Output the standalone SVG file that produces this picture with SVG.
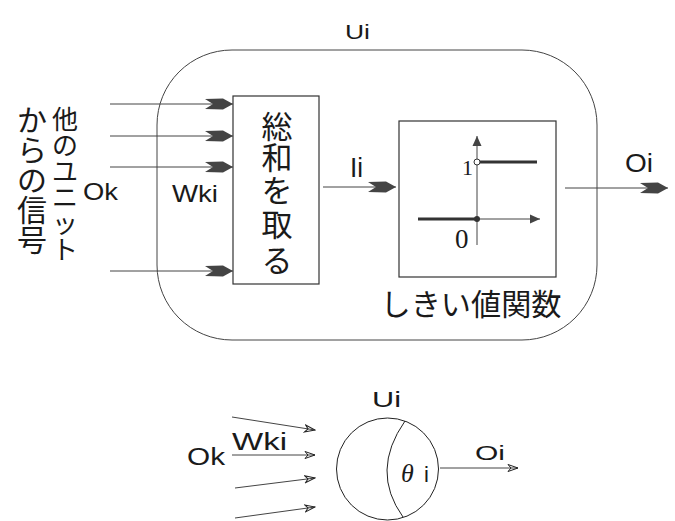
<svg xmlns="http://www.w3.org/2000/svg" width="675" height="521" viewBox="0 0 675 521">
<style>
.lat{font-family:"Liberation Sans","DejaVu Sans",sans-serif;fill:#1a1a1a}
.jp{font-family:"Noto Sans CJK JP","Noto Sans CJK SC",sans-serif;fill:#1a1a1a;text-anchor:middle;dominant-baseline:central}
.ser{font-family:"Liberation Serif",serif;fill:#1a1a1a}
.thin{stroke:#444;stroke-width:1;fill:none}
.box{stroke:#333;stroke-width:1.2;fill:#fff}
.thick{stroke:#333;stroke-width:3;fill:none}
</style>
<defs>
<marker id="big" markerWidth="30" markerHeight="14" refX="29" refY="7" orient="auto" markerUnits="userSpaceOnUse">
<path d="M1,2 L19,1.5 L29,7 L19,12.5 L1,12 L9,7 Z" fill="#444"/>
</marker>
<marker id="small" markerWidth="12" markerHeight="10" refX="11" refY="5" orient="auto" markerUnits="userSpaceOnUse">
<path d="M1,1.5 L11,5 L1,8.5 L4,5 Z" fill="none" stroke="#222" stroke-width="1"/>
</marker>
<marker id="tri" markerWidth="12" markerHeight="12" refX="10" refY="6" orient="auto" markerUnits="userSpaceOnUse">
<path d="M0,1.5 L10,6 L0,10.5 Z" fill="#444"/>
</marker>
</defs>

<g id="unit">
<rect x="157" y="50" width="440" height="290" rx="75" ry="75" fill="none" stroke="#444" stroke-width="1"/>
<text class="lat" x="345" y="39" font-size="21" textLength="25" lengthAdjust="spacingAndGlyphs">Ui</text>
</g>

<g id="inputs-label">
<text class="jp" font-size="30" x="32" y="118">か</text>
<text class="jp" font-size="30" x="32" y="148">ら</text>
<text class="jp" font-size="30" x="32" y="178">の</text>
<text class="jp" font-size="30" x="32" y="208">信</text>
<text class="jp" font-size="30" x="32" y="238">号</text>
<text class="jp" font-size="26" x="65" y="117">他</text>
<text class="jp" font-size="26" x="65" y="143">の</text>
<text class="jp" font-size="26" x="65" y="169">ユ</text>
<text class="jp" font-size="26" x="65" y="195">ニ</text>
<text class="jp" font-size="26" x="65" y="221">ッ</text>
<text class="jp" font-size="26" x="65" y="247">ト</text>
<text class="lat" x="83" y="200" font-size="24" textLength="35" lengthAdjust="spacingAndGlyphs">Ok</text>
<text class="lat" x="172" y="202" font-size="24" textLength="46" lengthAdjust="spacingAndGlyphs">Wki</text>
</g>

<g id="sum">
<rect class="box" x="233" y="96" width="86" height="188"/>
<text class="jp" font-size="31" x="277" y="124">総</text>
<text class="jp" font-size="31" x="277" y="155">和</text>
<text class="jp" font-size="31" x="277" y="188">を</text>
<text class="jp" font-size="31" x="277" y="222">取</text>
<text class="jp" font-size="31" x="277" y="258">る</text>
</g>

<g id="threshold">
<rect class="box" x="399" y="121" width="157" height="156"/>
<line class="thin" x1="477" y1="245" x2="477" y2="136" marker-end="url(#tri)"/>
<line class="thin" x1="477" y1="219" x2="540" y2="219" marker-end="url(#tri)"/>
<line class="thick" x1="418" y1="219" x2="477" y2="219"/>
<line class="thick" x1="480" y1="162" x2="537" y2="162"/>
<circle cx="477" cy="162" r="3" fill="#fff" stroke="#333" stroke-width="1"/>
<circle cx="477" cy="219" r="3" fill="#333"/>
<text class="ser" x="462" y="175" font-size="22">1</text>
<text class="ser" x="455" y="248" font-size="27">0</text>
<text class="jp" font-size="30" x="471" y="302" textLength="181" lengthAdjust="spacingAndGlyphs">しきい値関数</text>
</g>

<g id="neuron">
<circle cx="387.5" cy="469" r="51" fill="none" stroke="#222" stroke-width="1"/>
<path d="M405,421 Q370,471 403,517" fill="none" stroke="#222" stroke-width="1"/>
<text class="lat" x="372" y="407" font-size="22" textLength="29" lengthAdjust="spacingAndGlyphs">Ui</text>
<text x="401" y="482" font-size="26" font-style="italic" font-family="Liberation Serif,serif" fill="#1a1a1a">θ</text>
<text class="lat" x="424" y="482" font-size="22">i</text>
<text class="lat" x="187" y="465" font-size="23" textLength="38" lengthAdjust="spacingAndGlyphs">Ok</text>
<text class="lat" x="232" y="450" font-size="23" textLength="55" lengthAdjust="spacingAndGlyphs">Wki</text>
<text class="lat" x="475" y="460" font-size="21" textLength="30" lengthAdjust="spacingAndGlyphs">Oi</text>
</g>

<g id="connectors">
<line class="thin" x1="110" y1="104" x2="233" y2="104" marker-end="url(#big)"/>
<line class="thin" x1="110" y1="136" x2="233" y2="136" marker-end="url(#big)"/>
<line class="thin" x1="110" y1="167" x2="233" y2="167" marker-end="url(#big)"/>
<line class="thin" x1="110" y1="271" x2="233" y2="271" marker-end="url(#big)"/>
<line class="thin" x1="323" y1="187" x2="396" y2="187" marker-end="url(#big)"/>
<text class="lat" x="350" y="177" font-size="27" textLength="13" lengthAdjust="spacingAndGlyphs">Ii</text>
<line class="thin" x1="565" y1="188" x2="668" y2="188" marker-end="url(#big)"/>
<text class="lat" x="625" y="172" font-size="25" textLength="28" lengthAdjust="spacingAndGlyphs">Oi</text>
<line class="thin" x1="232" y1="417" x2="315" y2="430" marker-end="url(#small)"/>
<line class="thin" x1="232" y1="455" x2="315" y2="455" marker-end="url(#small)"/>
<line class="thin" x1="235" y1="488" x2="315" y2="478" marker-end="url(#small)"/>
<line class="thin" x1="235" y1="518" x2="315" y2="507" marker-end="url(#small)"/>
<line class="thin" x1="440" y1="468" x2="518" y2="468" marker-end="url(#small)"/>
</g>
</svg>
